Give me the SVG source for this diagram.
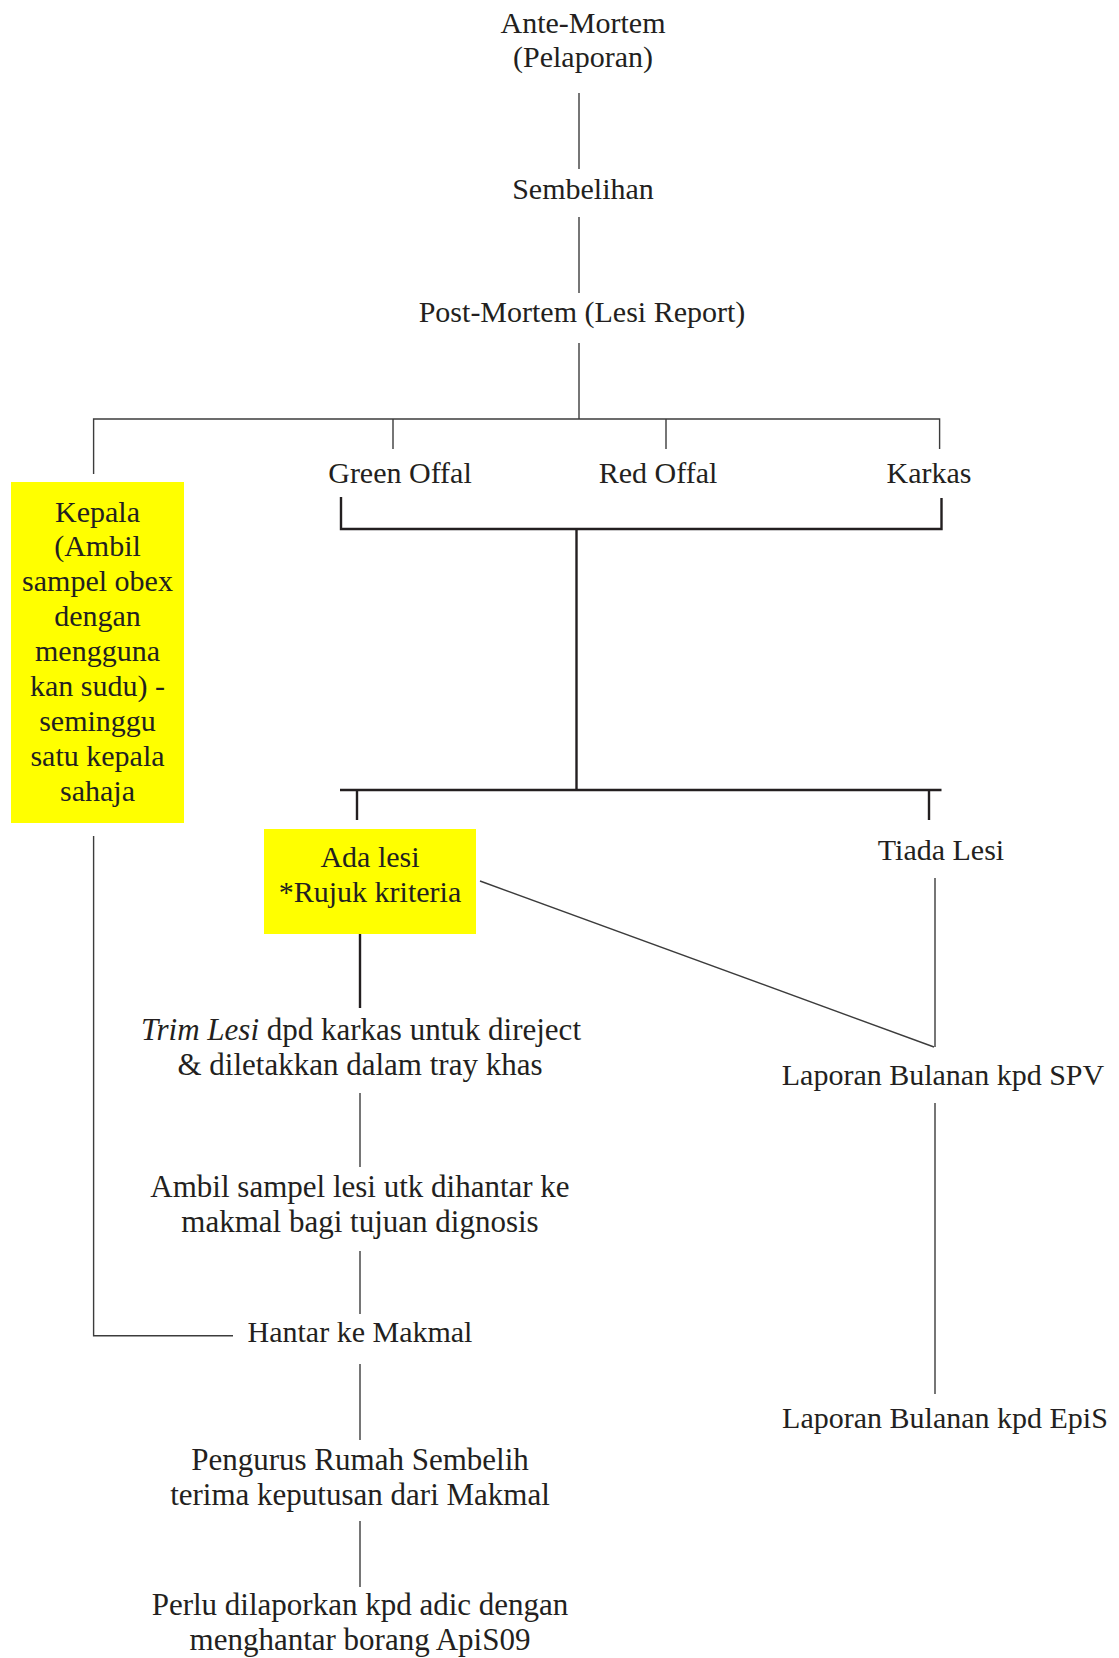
<svg xmlns="http://www.w3.org/2000/svg" width="1119" height="1658" viewBox="0 0 1119 1658">
<style>
text{font-family:"Liberation Serif","Times New Roman",serif;font-size:30px;fill:#231f20;text-anchor:middle}
.w{font-size:31px}
.thin{stroke:#3c3c3c;stroke-width:1.4;fill:none}
.thick{stroke:#231f20;stroke-width:2.4;fill:none}
.hl{fill:#ffff00}
</style>
<rect width="1119" height="1658" fill="#ffffff"/>
<g id="connectors">
<line class="thin" x1="579" y1="93" x2="579" y2="169"/>
<line class="thin" x1="579" y1="217" x2="579" y2="293"/>
<line class="thin" x1="579" y1="343" x2="579" y2="419"/>
<polyline class="thin" points="93.6,474 93.6,419 939.6,419 939.6,449"/>
<line class="thin" x1="393" y1="419" x2="393" y2="449"/>
<line class="thin" x1="666" y1="419" x2="666" y2="449"/>
<polyline class="thick" points="341,497 341,529 941.5,529 941.5,498"/>
<line class="thick" x1="576.5" y1="529" x2="576.5" y2="790"/>
<line class="thick" x1="340" y1="790" x2="941.5" y2="790"/>
<line class="thick" x1="357" y1="790" x2="357" y2="820"/>
<line class="thick" x1="929" y1="790" x2="929" y2="820"/>
<line class="thick" x1="360" y1="934" x2="360" y2="1008"/>
<line class="thin" x1="480" y1="881" x2="934" y2="1047"/>
<line class="thin" x1="935" y1="878" x2="935" y2="1047"/>
<line class="thin" x1="935" y1="1103" x2="935" y2="1394"/>
<line class="thin" x1="360" y1="1093" x2="360" y2="1167"/>
<line class="thin" x1="360" y1="1251" x2="360" y2="1314"/>
<polyline class="thin" points="93.6,836 93.6,1335.7 233,1335.7"/>
<line class="thin" x1="360" y1="1364" x2="360" y2="1440"/>
<line class="thin" x1="360" y1="1521" x2="360" y2="1587"/>
</g>
<g id="ante-mortem"><text x="583" y="33">Ante-Mortem</text><text x="583" y="67">(Pelaporan)</text></g>
<g id="sembelihan"><text x="583" y="199">Sembelihan</text></g>
<g id="post-mortem"><text x="582" y="322">Post-Mortem (Lesi Report)</text></g>
<g id="green-offal"><text x="400" y="483">Green Offal</text></g>
<g id="red-offal"><text x="658" y="483">Red Offal</text></g>
<g id="karkas"><text x="929" y="483">Karkas</text></g>
<g id="kepala">
<rect class="hl" x="11" y="482" width="173" height="341"/>
<text x="97.5" y="522">Kepala</text>
<text x="97.5" y="556">(Ambil</text>
<text x="97.5" y="591">sampel obex</text>
<text x="97.5" y="626">dengan</text>
<text x="97.5" y="661">mengguna</text>
<text x="97.5" y="696">kan sudu) -</text>
<text x="97.5" y="731">seminggu</text>
<text x="97.5" y="766">satu kepala</text>
<text x="97.5" y="801">sahaja</text>
</g>
<g id="ada-lesi">
<rect class="hl" x="264" y="829" width="212" height="105"/>
<text x="370" y="867">Ada lesi</text>
<text x="370" y="902">*Rujuk kriteria</text>
</g>
<g id="tiada-lesi"><text x="941" y="860">Tiada Lesi</text></g>
<g id="trim-lesi">
<text class="w" x="361" y="1040"><tspan font-style="italic">Trim Lesi</tspan> dpd karkas untuk direject</text>
<text class="w" x="360" y="1075">&amp; diletakkan dalam tray khas</text>
</g>
<g id="ambil-sampel">
<text class="w" x="360" y="1197">Ambil sampel lesi utk dihantar ke</text>
<text class="w" x="360" y="1232">makmal bagi tujuan dignosis</text>
</g>
<g id="hantar"><text x="360" y="1342">Hantar ke Makmal</text></g>
<g id="pengurus">
<text class="w" x="360" y="1470">Pengurus Rumah Sembelih</text>
<text class="w" x="360" y="1505">terima keputusan dari Makmal</text>
</g>
<g id="perlu">
<text class="w" x="360" y="1615">Perlu dilaporkan kpd adic dengan</text>
<text class="w" x="360" y="1650">menghantar borang ApiS09</text>
</g>
<g id="laporan-spv"><text x="943" y="1085">Laporan Bulanan kpd SPV</text></g>
<g id="laporan-epis"><text x="945" y="1428">Laporan Bulanan kpd EpiS</text></g>
</svg>
